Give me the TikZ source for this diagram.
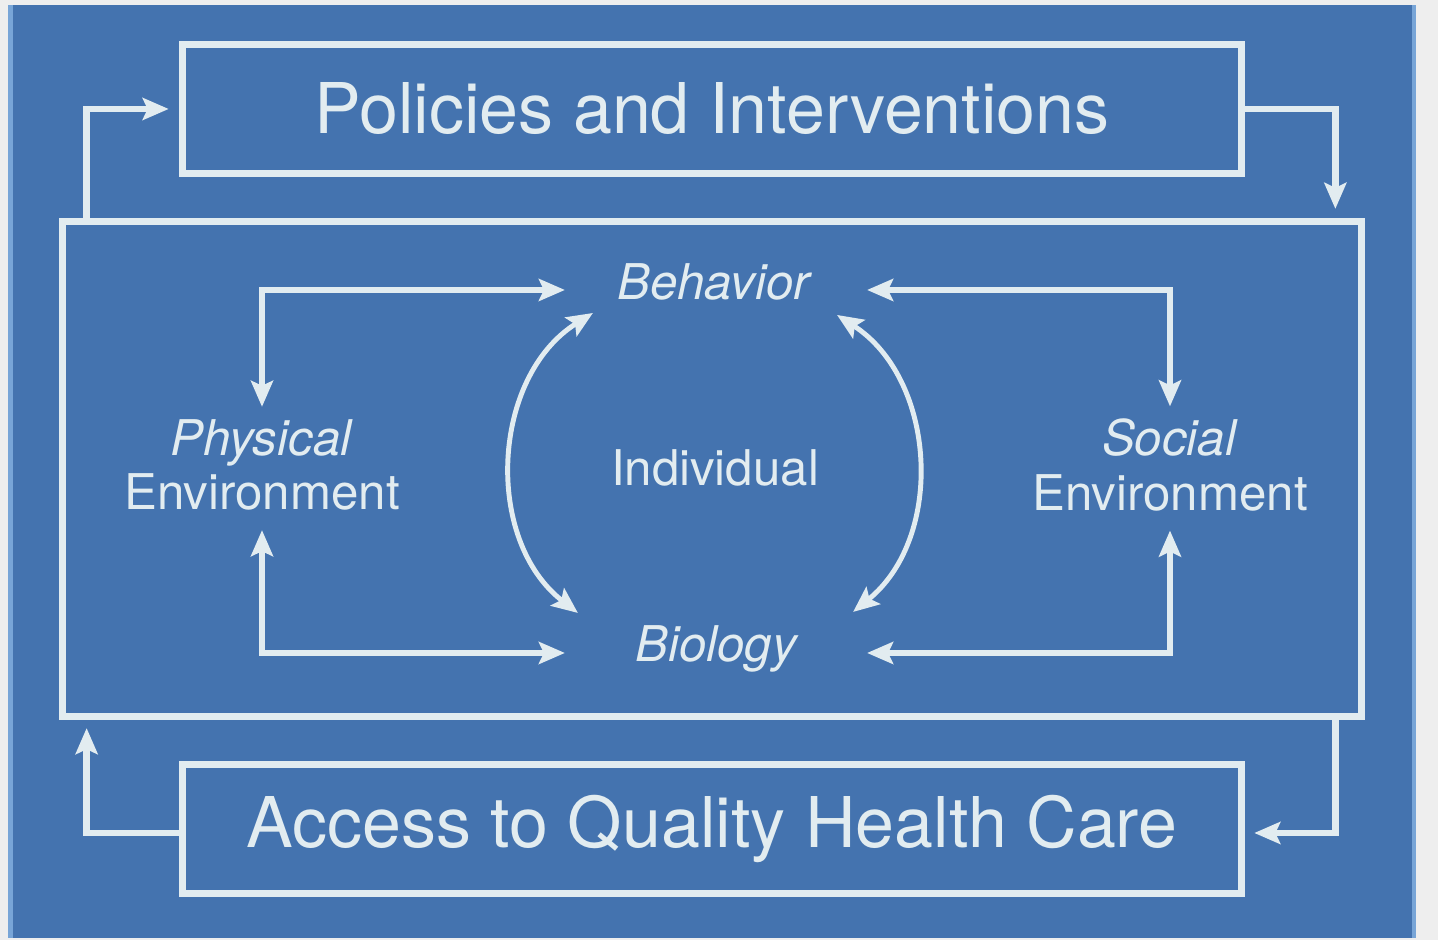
\documentclass[tikz,border=0pt]{standalone}
\usepackage{fontspec}
\setmainfont{TeX Gyre Heros}
\usetikzlibrary{arrows.meta}
\definecolor{panelblue}{RGB}{68,115,175}
\definecolor{edgeblue}{RGB}{120,165,215}
\definecolor{paper}{RGB}{238,238,238}
\definecolor{chalk}{RGB}{226,236,240}

\begin{document}
\begin{tikzpicture}[x=0.01cm,y=0.01cm,>={Stealth[length=0.26cm,width=0.22cm,inset=0.05cm]}]
\tikzstyle{box}=[draw=chalk,line width=2pt,outer sep=0pt,minimum width=10.58cm,minimum height=1.28cm,text=chalk,font=\fontsize{19.9}{23}\selectfont]
\tikzstyle{term}=[text=chalk,font=\fontsize{14}{15.6}\selectfont,align=center]
\tikzstyle{flow}=[draw=chalk,line width=1.8pt,->]
\tikzstyle{link}=[draw=chalk,line width=1.6pt,<->]
\tikzstyle{swing}=[draw=chalk,line width=1.4pt,<->]
\useasboundingbox (0,0) rectangle (1438,940);
\fill[paper] (0,0) rectangle (1438,940);
\fill[panelblue] (8,2) rectangle (1416,935);
\fill[edgeblue] (8,2) rectangle (13,935);
\fill[edgeblue] (1412,2) rectangle (1416,935);
% boxes
\node[box] (policies) at (712,831) {Policies and Interventions};
\node[box,minimum width=12.98cm,minimum height=4.94cm] (inner) at (712,471) {};
\node[box] (access) at (712,111) {Access to Quality Health Care};
% inside
\node[term,anchor=base] (behavior) at (715,640) {\textit{Behavior}};
\node[term,anchor=base] (biology) at (717,278) {\textit{Biology}};
\node[term] (individual) at (715,472) {Individual};
\node[term] (physical) at (262,475) {\textit{Physical}\\Environment};
\node[term] (social) at (1170,475) {\textit{Social}\\Environment};
% outer loop
\draw[flow] ([xshift=0.24cm]inner.north west) |- ([xshift=-0.14cm]policies.west);
\draw[flow] (policies.east) -| ([xshift=-0.26cm,yshift=0.13cm]inner.north east);
\draw[flow] ([xshift=-0.26cm]inner.south east) |- ([xshift=0.13cm,yshift=-0.04cm]access.east);
\draw[flow] ([yshift=-0.04cm]access.west) -| ([xshift=0.24cm,yshift=-0.12cm]inner.south west);
% environments
\draw[link] (physical.north) |- ([xshift=-1.5cm,yshift=0.1cm]behavior.base);
\draw[link] ([yshift=-0.07cm]physical.south) |- ([xshift=-1.52cm,yshift=0.09cm]biology.base);
\draw[link] ([xshift=1.52cm,yshift=0.1cm]behavior.base) -| (social.north);
\draw[link] ([xshift=1.5cm,yshift=0.09cm]biology.base) -| ([yshift=-0.07cm]social.south);
% individual
\draw[swing] ([xshift=-1.22cm,yshift=-0.13cm]behavior.base) to[bend right=55,looseness=1.02] ([xshift=-1.39cm,yshift=0.49cm]biology.base);
\draw[swing] ([xshift=1.22cm,yshift=-0.15cm]behavior.base) to[bend left=54,looseness=1.02] ([xshift=1.36cm,yshift=0.5cm]biology.base);
\end{tikzpicture}
\end{document}
